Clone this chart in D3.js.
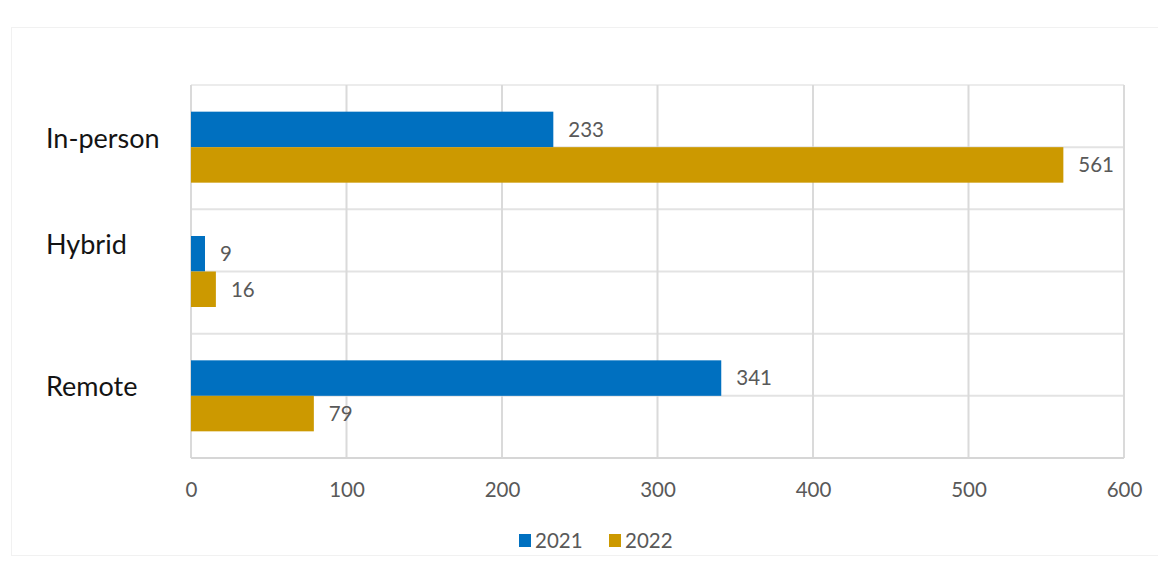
<!DOCTYPE html>
<html>
<head>
<meta charset="utf-8">
<script src="https://cdn.jsdelivr.net/npm/d3@7"></script>
<style>
  html, body { margin: 0; padding: 0; background: #ffffff; }
  svg { display: block; }
  text { font-family: Lato, "Open Sans", "Noto Sans", sans-serif; }
</style>
</head>
<body>
<svg id="chart" width="1158" height="571"></svg>
<script>
// Work arrangement counts by year
const categories = ["In-person", "Hybrid", "Remote"];
const seriesNames = ["2021", "2022"];
const values2021 = [233, 9, 341];
const values2022 = [561, 16, 79];
const xTicks = [0, 100, 200, 300, 400, 500, 600];

const colors = { "2021": "#0070C0", "2022": "#CC9900" };
const seriesValues = { "2021": values2021, "2022": values2022 };

const W = 1158, H = 571;
const plot = { left: 191, right: 1124, top: 85, bottom: 458 };

const svg = d3.select("#chart");

// faint chart-area frame
svg.append("rect")
  .attr("x", 11.5).attr("y", 27.5)
  .attr("width", W + 10).attr("height", 528)
  .attr("fill", "#ffffff")
  .attr("stroke", "#f1f1f1").attr("stroke-width", 1);

const x = d3.scaleLinear().domain([0, 600]).range([plot.left, plot.right]);
const y = d3.scaleBand().domain(categories).range([plot.top, plot.bottom]).padding(0);
const barH = 35.5;
const ySeries = d3.scaleBand().domain(seriesNames).range([-barH, barH]).padding(0);

// horizontal gridlines at band edges and band centres
const hLines = [];
categories.forEach(c => {
  hLines.push(y(c));
  hLines.push(y(c) + y.bandwidth() / 2);
});
hLines.push(plot.bottom);

const grid = svg.append("g");
grid.selectAll("line.h").data(hLines).join("line")
  .attr("class", "h")
  .attr("x1", plot.left).attr("x2", plot.right)
  .attr("y1", d => d).attr("y2", d => d)
  .attr("stroke", (d, i) => i === 0 ? "#ececec" : "#e3e3e3")
  .attr("stroke-width", 2);

// vertical gridlines on each tick
grid.selectAll("line.v").data(xTicks).join("line")
  .attr("class", "v")
  .attr("x1", d => x(d)).attr("x2", d => x(d))
  .attr("y1", plot.top).attr("y2", plot.bottom)
  .attr("stroke", "#dadada")
  .attr("stroke-width", 2);

// bottom axis line
svg.append("line")
  .attr("x1", plot.left).attr("x2", plot.right)
  .attr("y1", plot.bottom).attr("y2", plot.bottom)
  .attr("stroke", "#d6d6d6").attr("stroke-width", 2);

// bars
const rows = [];
categories.forEach((c, i) => {
  seriesNames.forEach(s => rows.push({ cat: c, series: s, value: seriesValues[s][i] }));
});

const barCenter = d => y(d.cat) + y.bandwidth() / 2 + ySeries(d.series) + ySeries.bandwidth() / 2;

svg.append("g").selectAll("rect").data(rows).join("rect")
  .attr("x", x(0))
  .attr("y", d => y(d.cat) + y.bandwidth() / 2 + ySeries(d.series))
  .attr("width", d => x(d.value) - x(0))
  .attr("height", ySeries.bandwidth())
  .attr("fill", d => colors[d.series]);

// value labels
svg.append("g").selectAll("text").data(rows).join("text")
  .attr("x", d => x(d.value) + 15)
  .attr("y", d => barCenter(d))
  .attr("dy", "0.36em")
  .attr("font-size", 20.5)
  .attr("fill", "#595959")
  .text(d => d.value);

// x axis tick labels
const xAxis = d3.axisBottom(x).tickValues(xTicks).tickSize(0).tickPadding(0);
const gx = svg.append("g").attr("transform", `translate(0,${plot.bottom})`).call(xAxis);
gx.select(".domain").remove();
gx.selectAll("text")
  .attr("y", 39)
  .attr("dy", 0)
  .attr("font-family", "Lato, 'Open Sans', sans-serif")
  .attr("font-size", 20.5)
  .attr("fill", "#595959");

// category labels
const labelNudge = { "Hybrid": -18 };
svg.append("g").selectAll("text").data(categories).join("text")
  .attr("x", 46)
  .attr("y", d => y(d) + y.bandwidth() / 2 + 0.5 + (labelNudge[d] || 0))
  .attr("font-size", 27)
  .attr("fill", "#141414")
  .text(d => d);

// legend
const legend = svg.append("g");
const legendX = { "2021": 519, "2022": 609 };
seriesNames.forEach(s => {
  legend.append("rect")
    .attr("x", legendX[s]).attr("y", 534)
    .attr("width", 12).attr("height", 13)
    .attr("fill", colors[s]);
  legend.append("text")
    .attr("x", legendX[s] + 16).attr("y", 548)
    .attr("font-size", 20.5)
    .attr("fill", "#595959")
    .text(s);
});
</script>
</body>
</html>
